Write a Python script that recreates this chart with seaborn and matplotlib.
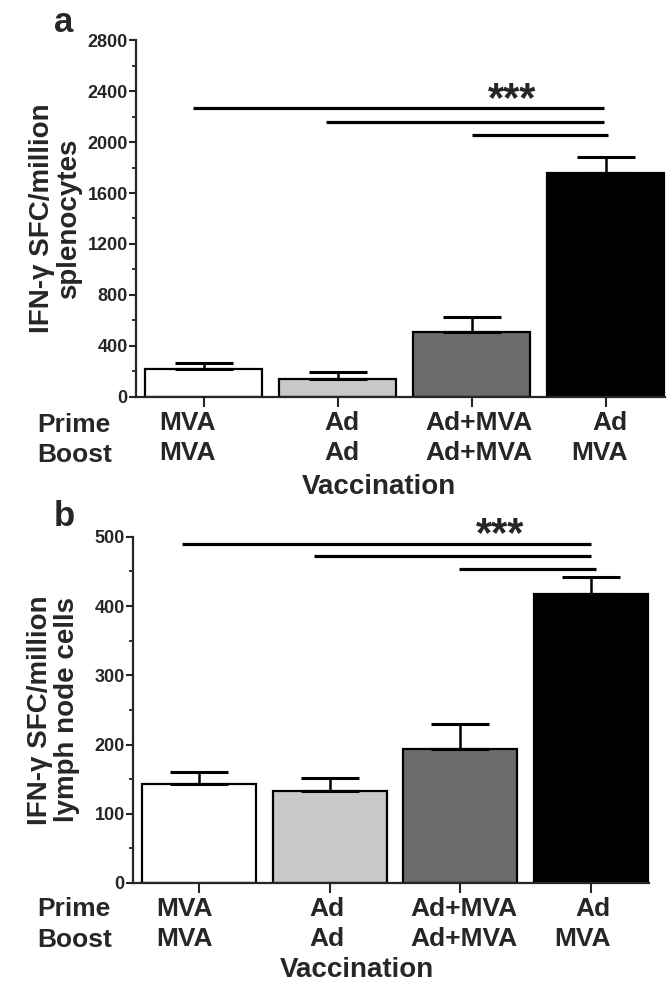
import matplotlib
matplotlib.use("Agg")
import matplotlib.pyplot as plt
import matplotlib.transforms as mtransforms
import seaborn as sns
import pandas as pd
from matplotlib.ticker import MultipleLocator

# data
groups = ["MVA\nMVA", "Ad\nAd", "Ad+MVA\nAd+MVA", "Ad\nMVA"]
colors = ["#ffffff", "#c8c8c8", "#6b6b6b", "#000000"]
spleen_mean = [220, 142, 510, 1757]
spleen_err = [47, 54, 120, 125]
lymph_mean = [143, 133, 194, 417]
lymph_err = [17, 19, 36, 25]
# significance bars: (from group, to group, height)
spleen_sig = [(0, 3, 2267), (1, 3, 2157), (2, 3, 2055)]
lymph_sig = [(0, 3, 490), (1, 3, 472), (2, 3, 453)]

sns.set_style("ticks")
plt.rcParams['font.family'] = ['Liberation Sans', 'DejaVu Sans']
plt.rcParams['font.weight'] = 'bold'

fig = plt.figure(figsize=(6.7, 9.86), dpi=100)
ax1 = fig.add_axes([0.203, 0.5974, 0.791, 0.362])
ax2 = fig.add_axes([0.1985, 0.1045, 0.7716, 0.351])


def draw_panel(ax, means, errs, sig, ymax, major, minor, ylabel, letter, letter_y, star_y,
               line_starts, line_ends, label_dx, vacc_x):
    df = pd.DataFrame({"group": groups, "value": means})
    sns.barplot(data=df, x="group", y="value", hue="group", palette=colors,
                edgecolor="black", linewidth=1.6, width=0.872, legend=False, ax=ax)
    ax.errorbar(range(len(means)), means, yerr=[[0] * len(errs), errs], fmt="none",
                ecolor="black", elinewidth=1.8, capsize=21, capthick=2.2, zorder=5)
    for (a, b, h), s0, s1 in zip(sig, line_starts, line_ends):
        ax.plot([a + s0, b + s1], [h, h], color="black", lw=2.3, clip_on=False,
                solid_capstyle="butt")
    ax.text(2.3, star_y, "***", ha="center", va="center", fontsize=30,
            fontweight="bold", clip_on=False)
    ax.set_ylim(0, ymax)
    ax.set_xlim(-0.505, 3.45)
    ax.yaxis.set_major_locator(MultipleLocator(major))
    ax.yaxis.set_minor_locator(MultipleLocator(minor))
    ax.tick_params(axis="y", which="major", length=5, width=1.5, labelsize=13, pad=1)
    ax.tick_params(axis="y", which="minor", length=3, width=1.3)
    ax.tick_params(axis="x", length=7, width=1.5, labelsize=19, pad=3)
    for lab in ax.get_yticklabels():
        lab.set_fontweight("bold")
    for i, lab in enumerate(ax.get_xticklabels()):
        lab.set_fontweight("bold")
        lab.set_linespacing(1.32)
        if i == 3:
            lab.set_multialignment("right")
        off = mtransforms.ScaledTranslation(label_dx[i] / 100, 0, fig.dpi_scale_trans)
        lab.set_transform(lab.get_transform() + off)
    ax.set_xlabel("")
    ax.text(vacc_x, -0.252, "Vaccination", transform=ax.transAxes, ha="center",
            va="center", fontsize=20, fontweight="bold")
    ax.set_ylabel(ylabel, fontsize=20, fontweight="bold", linespacing=1.05)
    ax.yaxis.set_label_coords(-0.102, 0.5)
    for s in ["left", "bottom"]:
        ax.spines[s].set_linewidth(1.6)
    sns.despine(ax=ax)
    ax.spines["bottom"].set_bounds(-0.505, 3.44)
    tr = mtransforms.blended_transform_factory(fig.transFigure, ax.transAxes)
    ax.text(37 / 670, -0.12, "Prime\nBoost", transform=tr, ha="left", va="center",
            fontsize=19, fontweight="bold", linespacing=1.32)
    fig.text(64 / 670, 1 - letter_y / 986, letter, fontsize=25, fontweight="bold",
             va="center", ha="center")


draw_panel(ax1, spleen_mean, spleen_err, spleen_sig, 2800, 400, 200,
           "IFN-\u03b3 SFC/million\nsplenocytes", "a", 22, 2330,
           [-0.08, -0.09, 0.0], [-0.015, -0.015, 0.015], [-16, 4, 7, -6], 0.458)
draw_panel(ax2, lymph_mean, lymph_err, lymph_sig, 500, 100, 50,
           "IFN-\u03b3 SFC/million\nlymph node cells", "b", 516, 503,
           [-0.13, -0.12, -0.01], [0.0, 0.0, 0.04], [-15, -3, 3, -9], 0.433)

fig.savefig("out.png", dpi=100)
